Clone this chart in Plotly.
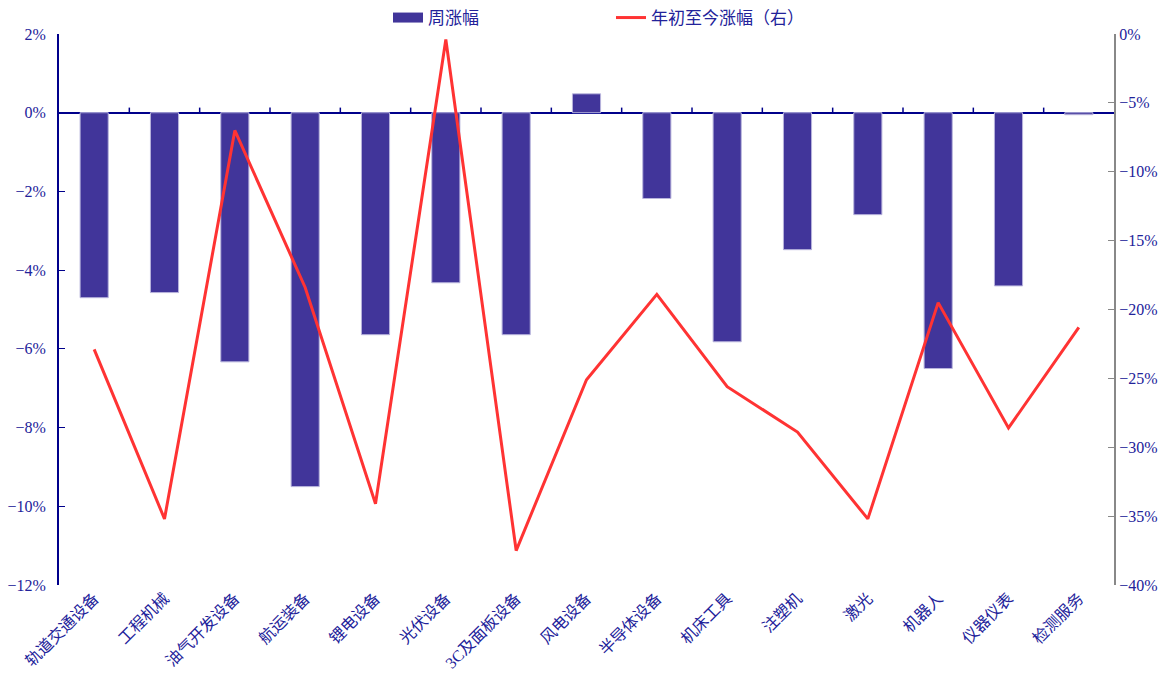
import plotly.graph_objects as go

categories = ["轨道交通设备", "工程机械", "油气开发设备", "航运装备", "锂电设备", "光伏设备",
              "3C及面板设备", "风电设备", "半导体设备", "机床工具", "注塑机", "激光",
              "机器人", "仪器仪表", "检测服务"]
weekly = [-4.70, -4.57, -6.33, -9.50, -5.64, -4.32, -5.64, 0.48, -2.18, -5.82, -3.48, -2.59, -6.50, -4.40, -0.05]
ytd = [-22.9, -35.2, -7.0, -18.4, -34.1, -0.4, -37.5, -25.1, -18.9, -25.6, -28.9, -35.2, -19.5, -28.6, -21.3]

left_ticks = [2, 0, -2, -4, -6, -8, -10, -12]
right_ticks = [0, -5, -10, -15, -20, -25, -30, -35, -40]

navy = "#22229a"
bar_color = "#41359a"
font_family = "Liberation Serif, Noto Sans CJK SC, serif"

n = len(categories)
xs = list(range(n))

fig = go.Figure()
fig.add_trace(go.Bar(x=xs, y=weekly, name="周涨幅", showlegend=False,
                     marker=dict(color=bar_color, line=dict(color="#b8b4dc", width=1)),
                     width=0.4, yaxis="y"))
# legend proxy for bars (wide rectangle swatch)
fig.add_trace(go.Scatter(x=[None], y=[None], name="周涨幅", mode="lines",
                         line=dict(color=bar_color, width=10), yaxis="y"))
# small upward tick marks along the zero line at category boundaries
tx, ty = [], []
for i in range(n - 1):
    tx += [i + 0.5, i + 0.5, None]
    ty += [0, 0.13, None]
fig.add_trace(go.Scatter(x=tx, y=ty, mode="lines", line=dict(color="#00008b", width=1.5),
                         showlegend=False, hoverinfo="skip", yaxis="y"))
fig.add_trace(go.Scatter(x=xs, y=ytd, name="年初至今涨幅（右）",
                         mode="lines", line=dict(color="#ff3333", width=3), yaxis="y2"))

fig.update_layout(
    width=1170, height=686,
    margin=dict(l=59, r=56, t=34, b=101, autoexpand=False),
    paper_bgcolor="white", plot_bgcolor="white",
    font=dict(family=font_family, size=16, color=navy),
    showlegend=True,
    legend=dict(orientation="h", xref="container", yref="container",
                x=388 / 1170, xanchor="left", y=1.0, yanchor="top",
                entrywidth=178, font=dict(size=17, color=navy), bgcolor="rgba(0,0,0,0)"),
    xaxis=dict(tickmode="array", tickvals=xs, ticktext=categories,
               range=[-0.5, n - 0.5], tickangle=-45, showgrid=False,
               showline=False, ticks="", tickfont=dict(size=16, color=navy)),
    yaxis=dict(range=[-12, 2], tickvals=left_ticks, ticktext=[f"{v}%".replace("-", "−") for v in left_ticks],
               showgrid=False, showline=True, linecolor="#00008b", linewidth=2,
               ticks="inside", ticklen=6, tickcolor="#00008b",
               zeroline=True, zerolinecolor="#00008b", zerolinewidth=1.5,
               tickfont=dict(size=16, color=navy), ticklabelstandoff=8),
    yaxis2=dict(range=[-40, 0], tickvals=right_ticks, ticktext=[f"{v}%".replace("-", "−") for v in right_ticks],
                overlaying="y", side="right", showgrid=False, showline=True,
                linecolor="#888888", linewidth=2, ticks="inside", ticklen=6, tickcolor="#888888",
                zeroline=False, tickfont=dict(size=16, color=navy)),
)

fig.write_html("out.html")
